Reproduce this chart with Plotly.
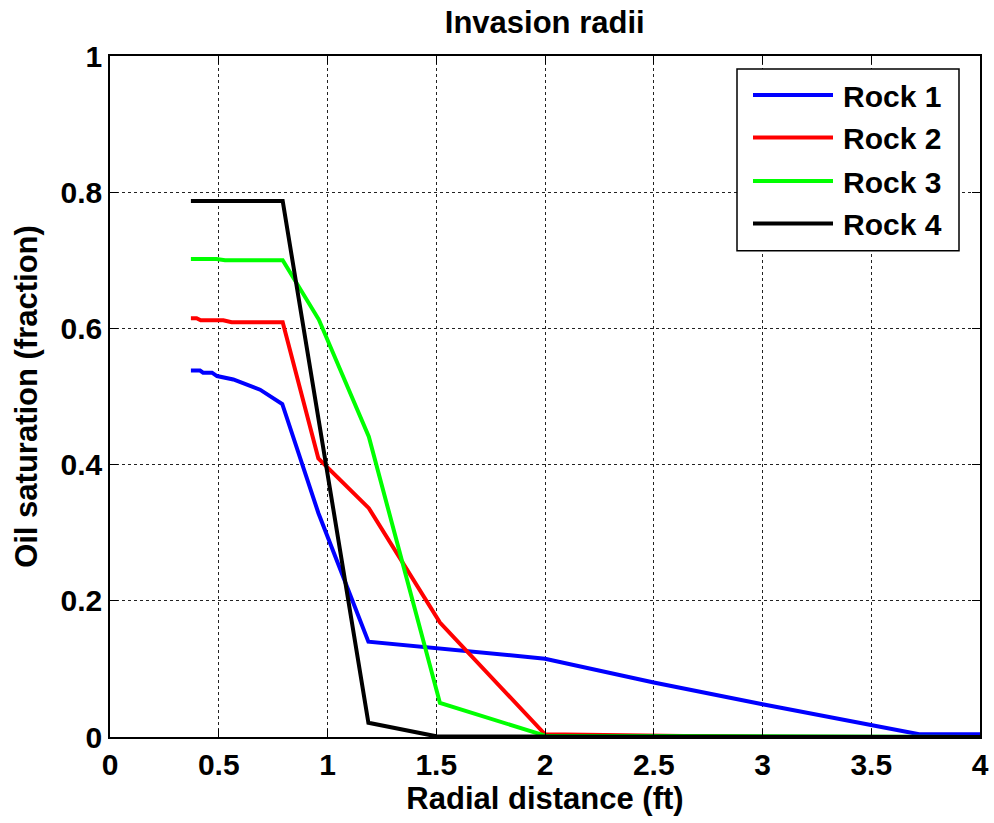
import plotly.graph_objects as go

# ---- data ----
rock1_x = [0.372, 0.414, 0.428, 0.469, 0.492, 0.552, 0.567, 0.690, 0.792, 0.958, 1.188, 2.0, 2.5, 3.0, 3.5, 3.72, 4.0]
rock1_y = [0.538, 0.538, 0.535, 0.535, 0.530, 0.527, 0.525, 0.510, 0.489, 0.329, 0.140, 0.115, 0.080, 0.048, 0.017, 0.004, 0.004]

rock2_x = [0.372, 0.398, 0.417, 0.521, 0.559, 0.794, 0.958, 1.19, 1.517, 2.0, 3.0, 4.0]
rock2_y = [0.615, 0.615, 0.612, 0.612, 0.609, 0.609, 0.409, 0.336, 0.168, 0.004, 0.0, 0.0]

rock3_x = [0.372, 0.49, 0.529, 0.794, 0.960, 1.19, 1.517, 2.0, 4.0]
rock3_y = [0.702, 0.702, 0.700, 0.700, 0.613, 0.441, 0.050, 0.002, 0.0]

rock4_x = [0.372, 0.794, 1.188, 1.50, 4.0]
rock4_y = [0.787, 0.787, 0.021, 0.001, 0.0]

series_names = ["Rock 1", "Rock 2", "Rock 3", "Rock 4"]
series_colors = ["#0000ff", "#ff0000", "#00ff00", "#000000"]

FONT = "Arial, Liberation Sans, Helvetica, sans-serif"

# layout geometry (pixels)
W, H = 994, 823
PL, PR, PT, PB = 110, 980, 56, 737.5


def px2x(p):
    return (p - PL) / (PR - PL)


def px2y(p):
    return (PB - p) / (PB - PT)


fig = go.Figure()
for name, xs, ys, col in zip(series_names,
                             [rock1_x, rock2_x, rock3_x, rock4_x],
                             [rock1_y, rock2_y, rock3_y, rock4_y],
                             series_colors):
    fig.add_trace(go.Scatter(x=xs, y=ys, mode="lines", name=name,
                             line=dict(color=col, width=4), showlegend=False))

axis_common = dict(
    showline=True, linecolor="black", linewidth=1.5, mirror="allticks",
    ticks="inside", ticklen=8, tickcolor="black", tickwidth=1,
    showgrid=True, gridcolor="#222222", gridwidth=1, griddash="dot",
    zeroline=False, automargin=False,
    tickfont=dict(family=FONT, size=30, color="black", weight="bold"),
)

# manual legend (box, line samples, labels)
shapes = [dict(type="rect", xref="paper", yref="paper",
               x0=px2x(737), x1=px2x(959), y0=px2y(251), y1=px2y(69),
               line=dict(color="black", width=1.5), fillcolor="white", layer="above")]
annotations = []
legend_rows = [95, 137.5, 181, 223.5]
for name, col, ry in zip(series_names, series_colors, legend_rows):
    shapes.append(dict(type="line", xref="paper", yref="paper",
                       x0=px2x(753), x1=px2x(833), y0=px2y(ry), y1=px2y(ry),
                       line=dict(color=col, width=4), layer="above"))
    annotations.append(dict(text=name, xref="paper", yref="paper",
                            x=px2x(841), y=px2y(ry + 1.5), xanchor="left", yanchor="middle",
                            showarrow=False,
                            font=dict(family=FONT, size=30, color="black", weight="bold")))

fig.update_layout(
    width=W, height=H,
    margin=dict(l=PL, r=W - PR, t=PT, b=H - PB),
    paper_bgcolor="white", plot_bgcolor="white",
    title=dict(text="Invasion radii", x=0.548, xanchor="center",
               y=1 - 22 / 823, yanchor="middle", yref="container",
               font=dict(family=FONT, size=31, color="black", weight="bold")),
    xaxis=dict(range=[0, 4], dtick=0.5, tick0=0,
               title=dict(text="Radial distance (ft)", standoff=7,
                          font=dict(family=FONT, size=31, color="black", weight="bold")),
               **axis_common),
    yaxis=dict(range=[0, 1], dtick=0.2, tick0=0,
               title=dict(text="Oil saturation (fraction)", standoff=14,
                          font=dict(family=FONT, size=31, color="black", weight="bold")),
               **axis_common),
    shapes=shapes,
    annotations=annotations,
    showlegend=False,
)

fig.write_html("out.html")
